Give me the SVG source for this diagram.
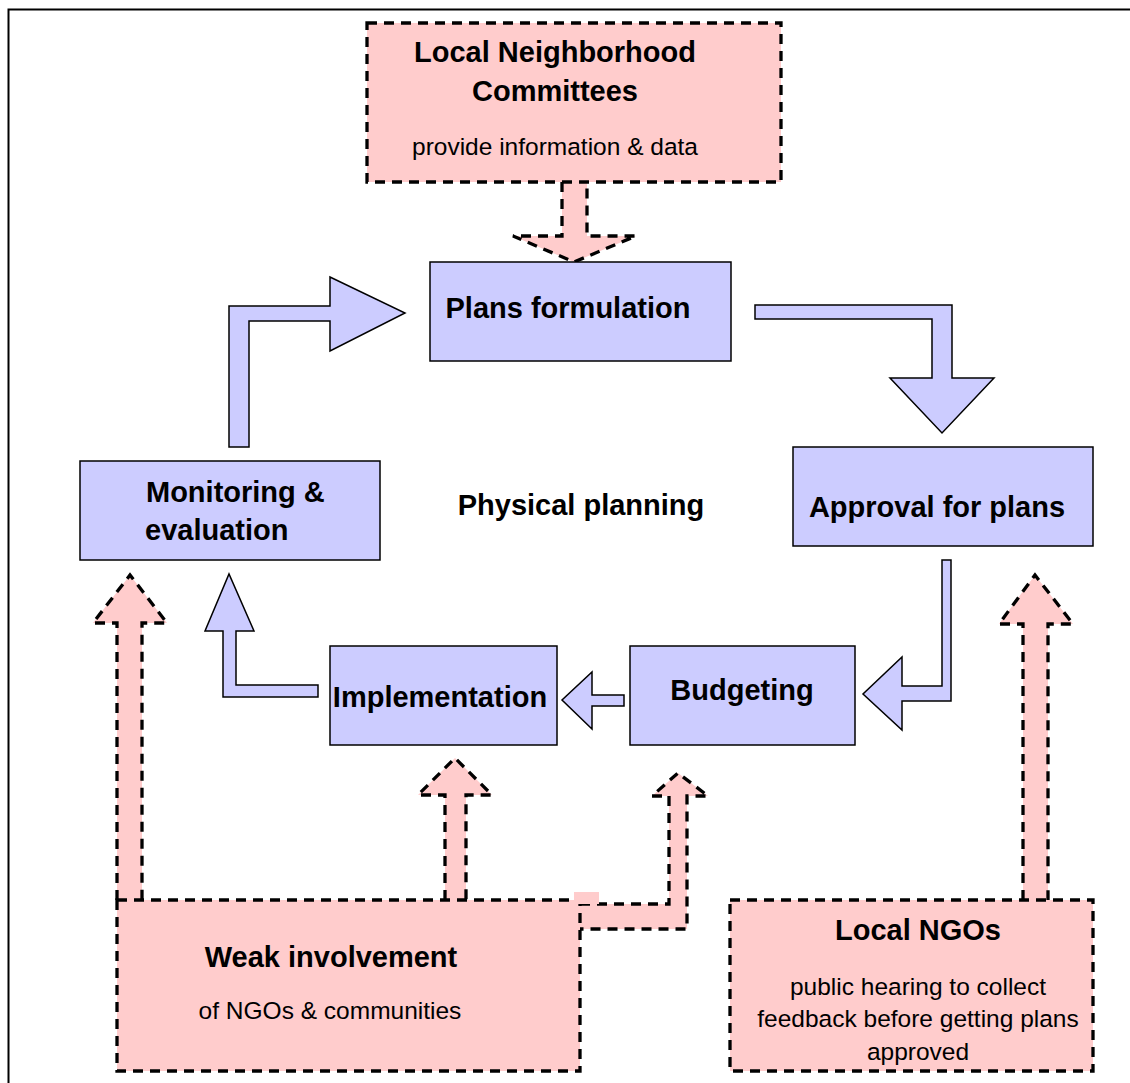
<svg xmlns="http://www.w3.org/2000/svg" width="1130" height="1083" viewBox="0 0 1130 1083">
  <style>
    .step { fill: #ccccff; stroke: #000; stroke-width: 1.5; }
    .flow { fill: #ccccff; stroke: #000; stroke-width: 1.5; stroke-linejoin: miter; }
    .actor { fill: #ffcccc; stroke: #000; stroke-width: 3.3; stroke-dasharray: 10 7; }
    .input { fill: #ffcccc; stroke: #000; stroke-width: 3.3; stroke-dasharray: 10 7; stroke-linejoin: miter; }
    .title { font-family: "Liberation Sans", Arial, sans-serif; font-weight: bold; font-size: 29px; fill: #000; }
    .note { font-family: "Liberation Sans", Arial, sans-serif; font-size: 24.5px; fill: #000; }
  </style>

  <rect width="1130" height="1083" fill="#fff"/>
  <!-- frame -->
  <path d="M8.5 1083 V9.5 H1130" fill="none" stroke="#000" stroke-width="2"/>

  <!-- connectors -->
  <g id="connectors">
    <!-- committees -> plans formulation -->
    <path class="input" d="M562 182 V236 H513 L574 262 L636 236 H587 V182"/>
    <!-- monitoring -> plans formulation -->
    <path class="flow" d="M229 447 V306 H330 V277 L405 313 L330 351 V321 H249 V447 Z"/>
    <!-- plans formulation -> approval -->
    <path class="flow" d="M755 305 H952 V378 H994 L942 433 L890 378 H932 V319 H755 Z"/>
    <!-- approval -> budgeting -->
    <path class="flow" d="M951 560 V701 H902 V730 L863 694 L902 657 V686 H942 V560 Z"/>
    <!-- budgeting -> implementation -->
    <path class="flow" d="M624 695 V706 H592 V729 L562 700 L592 672 V695 Z"/>
    <!-- implementation -> monitoring -->
    <path class="flow" d="M318 685 V697 H223 V631 H205 L229 574 L254 631 H236 V685 Z"/>
    <!-- community inputs -->
    <path class="input" d="M117 900 V623 H93 L130 575 L167 623 H142 V900"/>
    <path class="input" d="M445 900 V795 H418 L455 758 L492 795 H466 V900"/>
    <path class="input" d="M580 904 H669 V796 H652 L678 773 L708 796 H687 V929 H580"/>
    <path class="input" d="M1023 900 V624 H999 L1035 575 L1073 624 H1048 V900"/>
  </g>

  <g id="committees">
    <rect class="actor" x="367" y="23" width="414" height="159"/>
    <text class="title" x="555" y="62" text-anchor="middle">Local Neighborhood</text>
    <text class="title" x="555" y="101" text-anchor="middle">Committees</text>
    <text class="note" x="555" y="155" text-anchor="middle">provide information &amp; data</text>
  </g>

  <g id="plans-formulation">
    <rect class="step" x="430" y="262" width="301" height="99"/>
    <text class="title" x="568" y="318" text-anchor="middle">Plans formulation</text>
  </g>

  <g id="approval">
    <rect class="step" x="793" y="447" width="300" height="99"/>
    <text class="title" x="937" y="517" text-anchor="middle">Approval for plans</text>
  </g>

  <g id="monitoring">
    <rect class="step" x="80" y="461" width="300" height="99"/>
    <text class="title" x="146" y="502">Monitoring &amp;</text>
    <text class="title" x="145" y="540">evaluation</text>
  </g>

  <g id="physical-planning">
    <text class="title" x="581" y="515" text-anchor="middle">Physical planning</text>
  </g>

  <g id="budgeting">
    <rect class="step" x="630" y="646" width="225" height="99"/>
    <text class="title" x="742" y="700" text-anchor="middle">Budgeting</text>
  </g>

  <g id="implementation">
    <rect class="step" x="330" y="646" width="227" height="99"/>
    <text class="title" x="440" y="707" text-anchor="middle">Implementation</text>
  </g>

  <g id="weak-involvement">
    <rect class="actor" x="117" y="900" width="463" height="171"/>
    <text class="title" x="331" y="967" text-anchor="middle">Weak involvement</text>
    <text class="note" x="330" y="1019" text-anchor="middle">of NGOs &amp; communities</text>
  </g>
  <!-- patch where the bent input joins the box edge -->
  <rect x="574" y="892" width="25" height="12" fill="#ffcccc"/>

  <g id="local-ngos">
    <rect class="actor" x="730" y="900" width="363" height="171"/>
    <text class="title" x="918" y="940" text-anchor="middle">Local NGOs</text>
    <text class="note" x="918" y="995" text-anchor="middle">public hearing to collect</text>
    <text class="note" x="918" y="1027" text-anchor="middle">feedback before getting plans</text>
    <text class="note" x="918" y="1060" text-anchor="middle">approved</text>
  </g>
</svg>
